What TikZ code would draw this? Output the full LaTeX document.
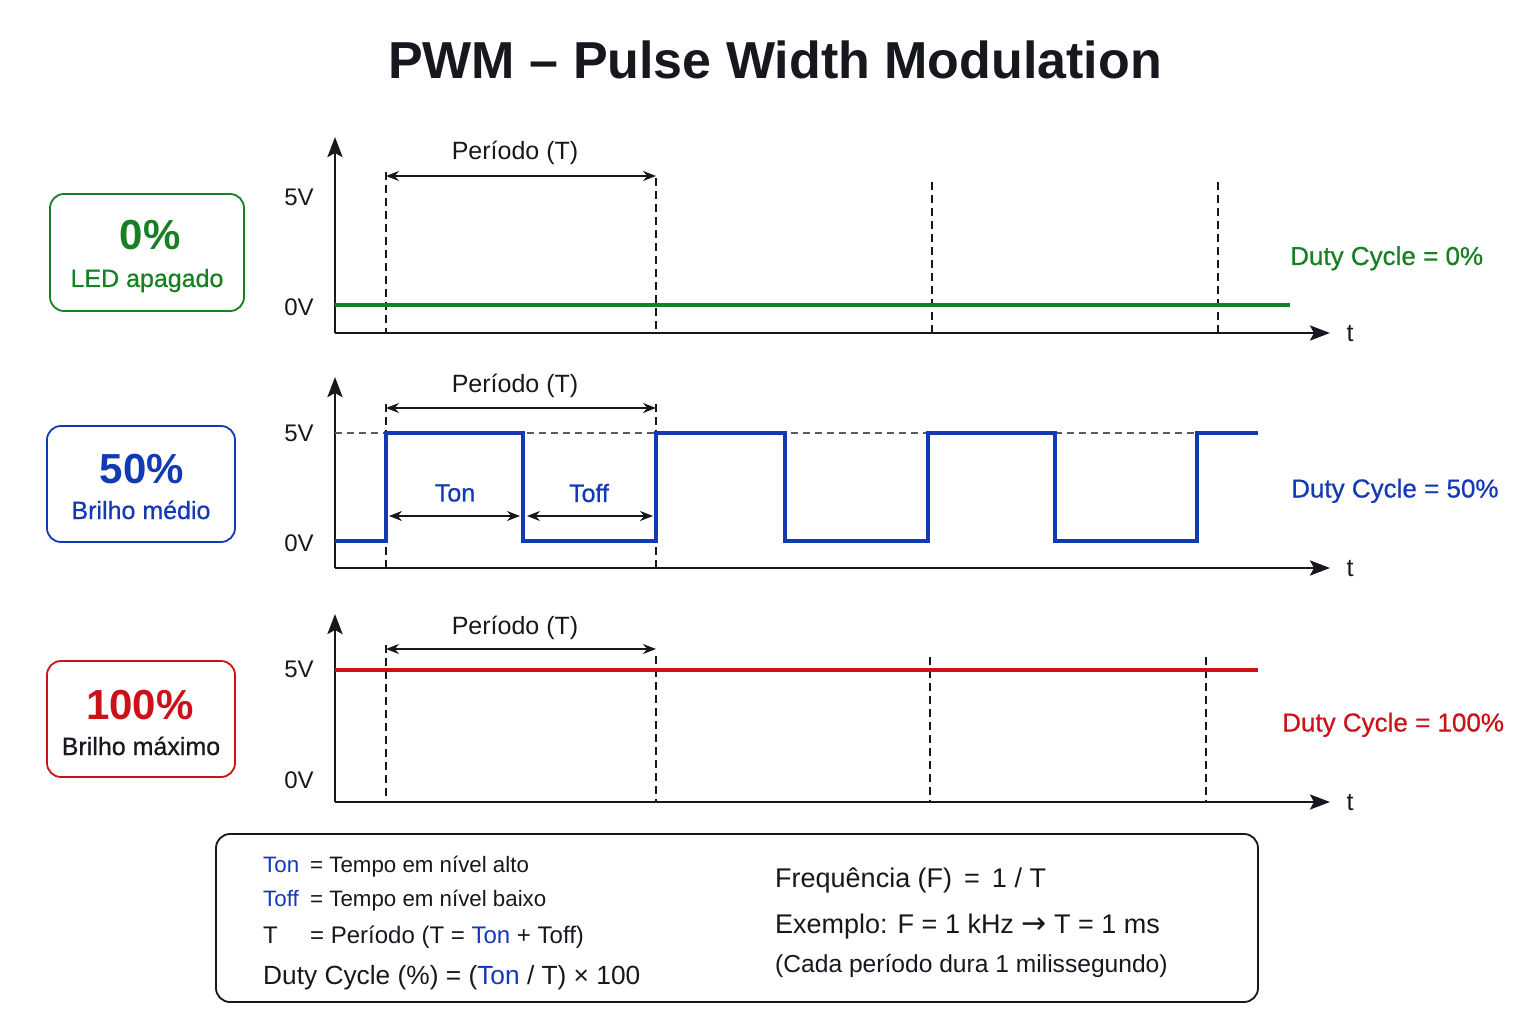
\documentclass[tikz,border=0pt]{standalone}
\usepackage{fontspec}
\setmainfont{Liberation Sans}
\newfontfamily\medfont[FakeBold=0.6]{Liberation Sans}
\newfontfamily\arrfont{DejaVu Sans}
\usetikzlibrary{arrows.meta}
\definecolor{gr}{RGB}{22,128,34}
\definecolor{bl}{RGB}{18,58,180}
\definecolor{rd}{RGB}{204,18,24}
\definecolor{ink}{RGB}{22,24,30}
\definecolor{gd}{RGB}{90,90,95}
\begin{document}
\begin{tikzpicture}[x=1pt,y=-1pt,
 axis/.style={line width=2.8pt, draw=ink, -{Stealth[length=20pt,width=15pt,inset=4pt]}},
 guide/.style={line width=1.3pt, draw=ink, dash pattern=on 8pt off 5pt},
 per/.style={line width=1.6pt, draw=ink, {Stealth[length=13pt,width=10pt]}-{Stealth[length=13pt,width=10pt]}},
 sig/.style={line width=4pt, line join=miter},
 lbl/.style={font=\fontsize{25}{30}\selectfont, text=ink, inner sep=0pt},
 vlbl/.style={font=\fontsize{24}{28}\selectfont, text=ink, inner sep=0pt},
 dlbl/.style={font=\fontsize{26}{30}\medfont, inner sep=0pt, anchor=base west},
 card/.style={draw=#1, line width=1.8pt, rounded corners=14pt, inner sep=0pt},
 big/.style={font=\fontsize{42}{48}\selectfont\bfseries, inner sep=0pt, anchor=base},
 sub/.style={font=\fontsize{25}{30}\medfont, inner sep=0pt, anchor=base},
 note/.style={font=\fontsize{22.3}{26}\selectfont, text=ink, inner sep=0pt, anchor=base west},
]
\useasboundingbox[fill=white] (0,0) rectangle (1536,1024);

% Title
\node[font=\fontsize{52}{60}\selectfont\bfseries, text=ink, inner sep=0pt] (title) at (775,60) {PWM – Pulse Width Modulation};

% ---------------- Panel 1 : 0% ----------------
\coordinate (o1) at (335,333);
\coordinate (y1) at (335,137);
\coordinate (x1) at (1330,333);
\draw[axis] (o1) -- (y1);
\draw[axis] (o1) -- (x1);
\node[lbl] (t1) at (1350,334) {t};
\node[vlbl] (v51) at (299,197) {5V};
\node[vlbl] (v01) at (299,307) {0V};
\coordinate (g1a) at (386,172); \coordinate (g1ab) at (386,332);
\coordinate (g1b) at (656,178); \coordinate (g1bb) at (656,332);
\coordinate (g1c) at (932,182); \coordinate (g1cb) at (932,332);
\coordinate (g1d) at (1218,182); \coordinate (g1db) at (1218,332);
\draw[guide] (g1a) -- (g1ab);
\draw[guide] (g1b) -- (g1bb);
\draw[guide] (g1c) -- (g1cb);
\draw[guide] (g1d) -- (g1db);
\coordinate (p1a) at (386,176); \coordinate (p1b) at (656,176);
\draw[per] (p1a) -- (p1b);
\node[lbl] (per1) at (515,153) {Período (T)};
\coordinate (s1a) at (335,305); \coordinate (s1b) at (1290,305);
\draw[sig, gr, line width=4.5pt] (s1a) -- (s1b);
\node[dlbl, text=gr] (dc1) at (1290,265) {Duty Cycle = 0\%};
\node[card=gr, minimum width=194pt, minimum height=117pt] (c1) at (147,252.5) {};
\node[big, text=gr] (c1a) at (150,250) {0\%};
\node[sub, text=gr] (c1b) at (147,287) {LED apagado};

% ---------------- Panel 2 : 50% ----------------
\coordinate (o2) at (335,568);
\coordinate (y2) at (335,377);
\coordinate (x2) at (1330,568);
\draw[axis] (o2) -- (y2);
\draw[axis] (o2) -- (x2);
\node[lbl] (t2) at (1350,569) {t};
\node[vlbl] (v52) at (299,433) {5V};
\node[vlbl] (v02) at (299,543) {0V};
\coordinate (h2a) at (335,433); \coordinate (h2b) at (1258,433);
\draw[line width=1.3pt, draw=gd, dash pattern=on 7pt off 5pt] (h2a) -- (h2b);
\coordinate (g2a) at (386,404); \coordinate (g2ab) at (386,568);
\coordinate (g2b) at (656,404); \coordinate (g2bb) at (656,568);
\draw[guide] (g2a) -- (g2ab);
\draw[guide] (g2b) -- (g2bb);
\coordinate (p2a) at (386,408); \coordinate (p2b) at (656,408);
\draw[per] (p2a) -- (p2b);
\node[lbl] (per2) at (515,386) {Período (T)};
\draw[sig, bl] (335,541) -- (386,541) -- (386,433) -- (523,433) -- (523,541) -- (656,541)
  -- (656,433) -- (785,433) -- (785,541) -- (928,541) -- (928,433) -- (1055,433)
  -- (1055,541) -- (1197,541) -- (1197,433) -- (1258,433);
\coordinate (on1) at (389,516); \coordinate (on2) at (520,516);
\coordinate (off1) at (527,516); \coordinate (off2) at (653,516);
\draw[per] (on1) -- (on2);
\draw[per] (off1) -- (off2);
\node[lbl, text=bl, font=\fontsize{25}{30}\medfont] (ton) at (455,493) {Ton};
\node[lbl, text=bl, font=\fontsize{25}{30}\medfont] (toff) at (589,493) {Toff};
\node[dlbl, text=bl] (dc2) at (1291,497.5) {Duty Cycle = 50\%};
\node[card=bl, minimum width=188pt, minimum height=116pt] (c2) at (141,484) {};
\node[big, text=bl] (c2a) at (142,483) {50\%};
\node[sub, text=bl] (c2b) at (141,519) {Brilho médio};

% ---------------- Panel 3 : 100% ----------------
\coordinate (o3) at (335,802);
\coordinate (y3) at (335,614);
\coordinate (x3) at (1330,802);
\draw[axis] (o3) -- (y3);
\draw[axis] (o3) -- (x3);
\node[lbl] (t3) at (1350,803) {t};
\node[vlbl] (v53) at (299,669) {5V};
\node[vlbl] (v03) at (299,780) {0V};
\coordinate (g3a) at (386,645); \coordinate (g3ab) at (386,802);
\coordinate (g3b) at (656,656); \coordinate (g3bb) at (656,802);
\coordinate (g3c) at (930,657); \coordinate (g3cb) at (930,802);
\coordinate (g3d) at (1206,657); \coordinate (g3db) at (1206,802);
\draw[guide] (g3a) -- (g3ab);
\draw[guide] (g3b) -- (g3bb);
\draw[guide] (g3c) -- (g3cb);
\draw[guide] (g3d) -- (g3db);
\coordinate (p3a) at (386,649); \coordinate (p3b) at (656,649);
\draw[per] (p3a) -- (p3b);
\node[lbl] (per3) at (515,628) {Período (T)};
\coordinate (s3a) at (335,670); \coordinate (s3b) at (1258,670);
\draw[sig, rd] (s3a) -- (s3b);
\node[dlbl, text=rd] (dc3) at (1282,731.5) {Duty Cycle = 100\%};
\node[card=rd, minimum width=188pt, minimum height=116pt] (c3) at (141,719) {};
\node[big, text=rd] (c3a) at (140,719) {100\%};
\node[sub, text=ink] (c3b) at (141,755) {Brilho máximo};

% ---------------- Legend box ----------------
\node[draw=ink, line width=1.8pt, rounded corners=14pt, minimum width=1042pt, minimum height=168pt, inner sep=0pt] (leg) at (737,918) {};
\node[note, text=bl] (l1a) at (263,872) {Ton};
\node[note] (l1b) at (310,872) {= Tempo em nível alto};
\node[note, text=bl] (l2a) at (263,906) {Toff};
\node[note] (l2b) at (310,906) {= Tempo em nível baixo};
\node[note, font=\fontsize{24}{28}\selectfont] (l3a) at (263,943) {T};
\node[note, font=\fontsize{24}{28}\selectfont] (l3b) at (310,943) {= Período (T = {\color{bl}Ton} + Toff)};
\node[note, font=\fontsize{26.3}{30}\selectfont] (l4) at (263,984) {Duty Cycle (\%) = ({\color{bl}Ton} / T) × 100};
\node[note, font=\fontsize{27}{31}\selectfont] (r1) at (775,887) {Frequência (F)\, = \,1 / T};
\node[note, font=\fontsize{27}{31}\selectfont] (r2) at (775,933) {Exemplo: F = 1 kHz {\arrfont\fontsize{30}{34}\selectfont →} T = 1 ms};
\node[note, font=\fontsize{24.6}{29}\selectfont] (r3) at (775,972) {(Cada período dura 1 milissegundo)};
\end{tikzpicture}
\end{document}
